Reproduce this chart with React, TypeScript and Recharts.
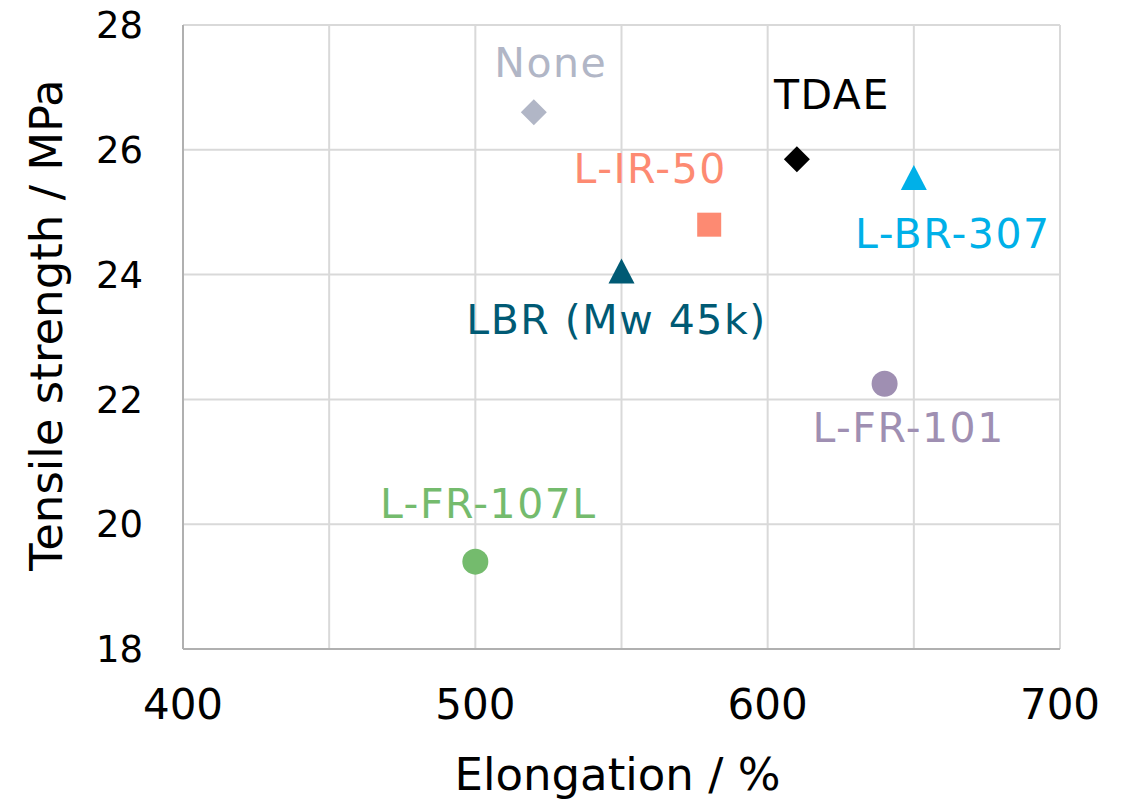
import React from 'react';
import { ScatterChart, Scatter, XAxis, YAxis, CartesianGrid } from 'recharts';

const SAMPLES = ['None', 'TDAE', 'L-IR-50', 'L-BR-307', 'LBR (Mw 45k)', 'L-FR-101', 'L-FR-107L'];
const ELONGATION = [520, 610, 580, 650, 550, 640, 500];
const TENSILE = [26.6, 25.85, 24.8, 25.55, 24.05, 22.25, 19.4];
const X_TICKS = [400, 450, 500, 550, 600, 650, 700];
const Y_TICKS = [18, 20, 22, 24, 26, 28];

// style per sample
const COLORS = ['#b1b6c6', '#000000', '#fd8a72', '#00b0e8', '#005a74', '#9f8fb2', '#74bb6d'];
const MARKERS = ['diamond', 'diamond', 'square', 'triangle', 'triangle', 'circle', 'circle'];
const LABEL_OFFSETS = [
  [16, -35],
  [34, -50],
  [-60, -42],
  [38, 70],
  [-6, 63],
  [23, 58],
  [12, -44],
];

const FONT = '"DejaVu Sans", sans-serif';

const data = SAMPLES.map((name, i) => ({ name, x: ELONGATION[i], y: TENSILE[i] }));

function Marker({ kind, cx, cy, color }: { kind: string; cx: number; cy: number; color: string }) {
  if (kind === 'diamond') {
    return <polygon points={`${cx},${cy - 13} ${cx + 13},${cy} ${cx},${cy + 13} ${cx - 13},${cy}`} fill={color} />;
  }
  if (kind === 'square') {
    return <rect x={cx - 12} y={cy - 12} width={24} height={24} fill={color} />;
  }
  if (kind === 'triangle') {
    return <polygon points={`${cx},${cy - 13} ${cx + 13},${cy + 12} ${cx - 13},${cy + 12}`} fill={color} />;
  }
  return <circle cx={cx} cy={cy} r={13} fill={color} />;
}

function PointShape(props: any) {
  const { cx, cy, payload } = props;
  const i = SAMPLES.indexOf(payload.name);
  const [dx, dy] = LABEL_OFFSETS[i];
  return (
    <g>
      <Marker kind={MARKERS[i]} cx={cx} cy={cy} color={COLORS[i]} />
      <text
        x={cx + dx + 1}
        y={cy + dy}
        textAnchor="middle"
        fill={COLORS[i]}
        fontSize={41}
        letterSpacing={1.5}
        fontFamily={FONT}
      >
        {payload.name}
      </text>
    </g>
  );
}

export default function App() {
  return (
    <div style={{ position: 'absolute', left: 0, top: 0, background: '#fff' }}>
      <ScatterChart width={1132} height={804} margin={{ top: 25, right: 72, bottom: 0, left: 20 }}>
        <CartesianGrid stroke="#d9d9d9" strokeWidth={2} horizontalValues={Y_TICKS} verticalValues={X_TICKS} />
        <XAxis
          type="number"
          dataKey="x"
          domain={[400, 700]}
          ticks={X_TICKS}
          interval={0}
          height={155}
          tickLine={false}
          tickSize={0}
          tickMargin={40}
          axisLine={{ stroke: '#b0b0b0', strokeWidth: 2 }}
          tick={{ fontSize: 42, fill: '#000', fontFamily: FONT }}
          tickFormatter={(v: number) => (v % 100 === 0 ? String(v) : '')}
          label={{
            content: ({ viewBox }: any) => (
              <text x={viewBox.x + viewBox.width / 2 - 4} y={790} textAnchor="middle" fontSize={45} fontFamily={FONT} fill="#000">
                Elongation / %
              </text>
            ),
          }}
        />
        <YAxis
          type="number"
          dataKey="y"
          domain={[18, 28]}
          ticks={Y_TICKS}
          interval={0}
          width={163}
          tickLine={false}
          tickSize={0}
          tickMargin={40}
          axisLine={{ stroke: '#b0b0b0', strokeWidth: 2 }}
          tick={{ fontSize: 37, fill: '#000', fontFamily: FONT }}
          label={{
            content: ({ viewBox }: any) => {
              const x = viewBox.x + 42;
              const y = viewBox.y + viewBox.height / 2 - 12;
              return (
                <text x={x} y={y} transform={`rotate(-90, ${x}, ${y})`} textAnchor="middle" fontSize={45} fontFamily={FONT} fill="#000">
                  Tensile strength / MPa
                </text>
              );
            },
          }}
        />
        <Scatter data={data} shape={PointShape} isAnimationActive={false} />
      </ScatterChart>
    </div>
  );
}
